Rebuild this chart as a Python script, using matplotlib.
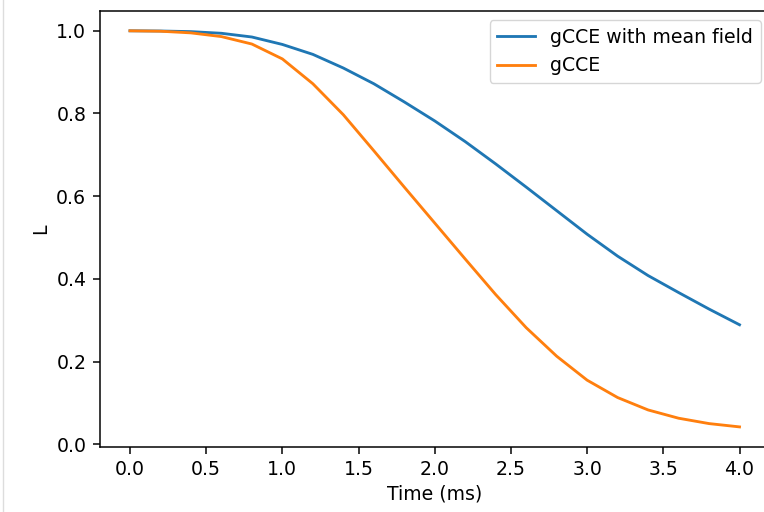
import matplotlib
matplotlib.use("Agg")
import matplotlib.pyplot as plt
from matplotlib.lines import Line2D

# values
time_ms = [0.0, 0.2, 0.4, 0.6, 0.8, 1.0, 1.2, 1.4, 1.6, 1.8, 2.0,
           2.2, 2.4, 2.6, 2.8, 3.0, 3.2, 3.4, 3.6, 3.8, 4.0]
L_mean_field = [1.0, 0.9995, 0.998, 0.994, 0.985, 0.967, 0.943, 0.910, 0.872, 0.828, 0.782,
                0.732, 0.678, 0.622, 0.565, 0.508, 0.455, 0.408, 0.367, 0.327, 0.289]
L_gcce = [1.0, 0.999, 0.995, 0.986, 0.968, 0.932, 0.872, 0.797, 0.710, 0.622, 0.535,
          0.448, 0.362, 0.282, 0.213, 0.155, 0.113, 0.083, 0.063, 0.050, 0.042]

s = 1.36  # the reference was drawn at ~136 dpi
plt.rcParams.update({
    "font.size": 10 * s,
    "lines.linewidth": 1.5 * s,
    "axes.linewidth": 0.8 * s,
    "xtick.major.size": 3.5 * s, "ytick.major.size": 3.5 * s,
    "xtick.major.width": 0.8 * s, "ytick.major.width": 0.8 * s,
    "xtick.major.pad": 3.5 * s, "ytick.major.pad": 3.5 * s,
})

fig = plt.figure(figsize=(7.64, 5.12), dpi=100)
# axes run past the right edge, the reference is cropped there
ax = fig.add_axes([99.5 / 764, 65.3 / 512, 670.5 / 764, 435.7 / 512])

ax.plot(time_ms, L_mean_field, label="gCCE with mean field")
ax.plot(time_ms, L_gcce, label="gCCE")
ax.set_xlabel("Time (ms)")
ax.set_ylabel("L")
ax.legend(loc="upper right")
ax.spines["right"].set_visible(False)

# faint notebook cell border on the left
fig.add_artist(Line2D([3 / 764, 3 / 764], [0, 1], color="#dddddd", lw=1))

fig.savefig("out.png", dpi=100)
